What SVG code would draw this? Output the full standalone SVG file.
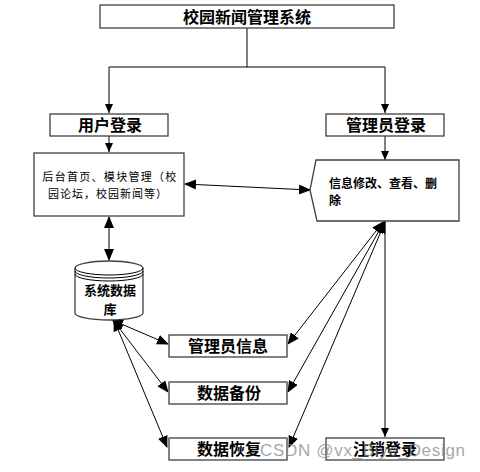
<svg xmlns="http://www.w3.org/2000/svg" width="480" height="472" viewBox="0 0 480 472">
<defs>
<marker id="ah" markerWidth="12" markerHeight="10" refX="11" refY="5" orient="auto-start-reverse" markerUnits="userSpaceOnUse">
<path d="M0,0 L12,5 L0,10 Z" fill="#000"/>
</marker>
<marker id="as" markerWidth="9" markerHeight="8" refX="9" refY="4" orient="auto-start-reverse" markerUnits="userSpaceOnUse">
<path d="M0,0 L9,4 L0,8 Z" fill="#000"/>
</marker>
<style>
.box{fill:#fff;stroke:#404040;stroke-width:1.3}
.t{font-family:"Noto Sans CJK SC","Liberation Sans",sans-serif;font-weight:bold;fill:#000;text-anchor:middle}
.c{stroke:#000;stroke-width:1;fill:none}
</style>
</defs>
<rect width="480" height="472" fill="#fff"/>
<g id="connectors">
<path class="c" d="M247 28 V67 M109 67 H385"/>
<path class="c" d="M109 67 V113" marker-end="url(#as)"/>
<path class="c" d="M385 67 V113" marker-end="url(#as)"/>
<path class="c" d="M109 136 V152" marker-end="url(#as)"/>
<path class="c" d="M385 136 V160" marker-end="url(#as)"/>
<path class="c" d="M185 184 L310 190" marker-start="url(#ah)" marker-end="url(#ah)"/>
<path class="c" d="M109 217 V260" marker-start="url(#ah)" marker-end="url(#ah)"/>
<path class="c" d="M112 320 L168 344" marker-start="url(#ah)" marker-end="url(#ah)"/>
<path class="c" d="M113 320 L168 392" marker-start="url(#ah)" marker-end="url(#ah)"/>
<path class="c" d="M114 320 L167 447" marker-start="url(#ah)" marker-end="url(#ah)"/>
<path class="c" d="M383 222 L288 344" marker-start="url(#ah)" marker-end="url(#ah)"/>
<path class="c" d="M384 222 L288 392" marker-start="url(#ah)" marker-end="url(#ah)"/>
<path class="c" d="M385 222 L289 447" marker-start="url(#ah)" marker-end="url(#ah)"/>
<path class="c" d="M385 221 V437" marker-end="url(#as)"/>
</g>
<g id="title">
<rect class="box" x="100" y="5" width="294" height="23"/>
<text class="t" x="247" y="23" font-size="16">校园新闻管理系统</text>
</g>
<g id="user-login">
<rect class="box" x="50" y="114" width="118" height="22"/>
<text class="t" x="110" y="131" font-size="16">用户登录</text>
</g>
<g id="admin-login">
<rect class="box" x="326" y="114" width="118" height="22"/>
<text class="t" x="386" y="131" font-size="16">管理员登录</text>
</g>
<g id="backend">
<rect class="box" x="34" y="153" width="150" height="63"/>
<text x="110" y="181" font-size="11" letter-spacing="1.3" text-anchor="middle" font-family="'Noto Sans CJK SC','Liberation Sans',sans-serif" fill="#000">后台首页、模块管理（校</text>
<text x="108" y="198" font-size="11" letter-spacing="1" text-anchor="middle" font-family="'Noto Sans CJK SC','Liberation Sans',sans-serif" fill="#000">园论坛，校园新闻等）</text>
</g>
<g id="info-edit">
<path class="box" d="M316 160 H459 V221 H317 L310 190 Z"/>
<text class="t" x="329" y="188" font-size="12" style="text-anchor:start">信息修改、查看、删</text>
<text class="t" x="329" y="205" font-size="12" style="text-anchor:start">除</text>
</g>
<g id="database">
<path class="box" d="M75 268 A34 7 0 0 1 143 268 V313 A34 7 0 0 1 75 313 Z"/>
<path class="c" stroke="#404040" d="M75 268 A34 7 0 0 0 143 268 M75 271 A34 7 0 0 0 143 271 M75 274 A34 7 0 0 0 143 274"/>
<text class="t" x="110" y="295" font-size="13">系统数据</text>
<text class="t" x="110" y="314" font-size="13">库</text>
</g>
<g id="admin-info">
<rect class="box" x="169" y="335" width="118" height="22"/>
<text class="t" x="228" y="352" font-size="16">管理员信息</text>
</g>
<g id="backup">
<rect class="box" x="169" y="382" width="118" height="22"/>
<text class="t" x="229" y="399" font-size="16">数据备份</text>
</g>
<g id="restore">
<rect class="box" x="169" y="438" width="118" height="22"/>
<text class="t" x="229" y="455" font-size="16">数据恢复</text>
</g>
<g id="logout">
<rect class="box" x="326" y="438" width="118" height="22"/>
<text class="t" x="385" y="455" font-size="16">注销登录</text>
</g>
<text x="260" y="456" font-size="17" font-family="'Liberation Sans',sans-serif" fill="#888" fill-opacity="0.75" textLength="205">CSDN @vx_Biye_Design</text>
</svg>
